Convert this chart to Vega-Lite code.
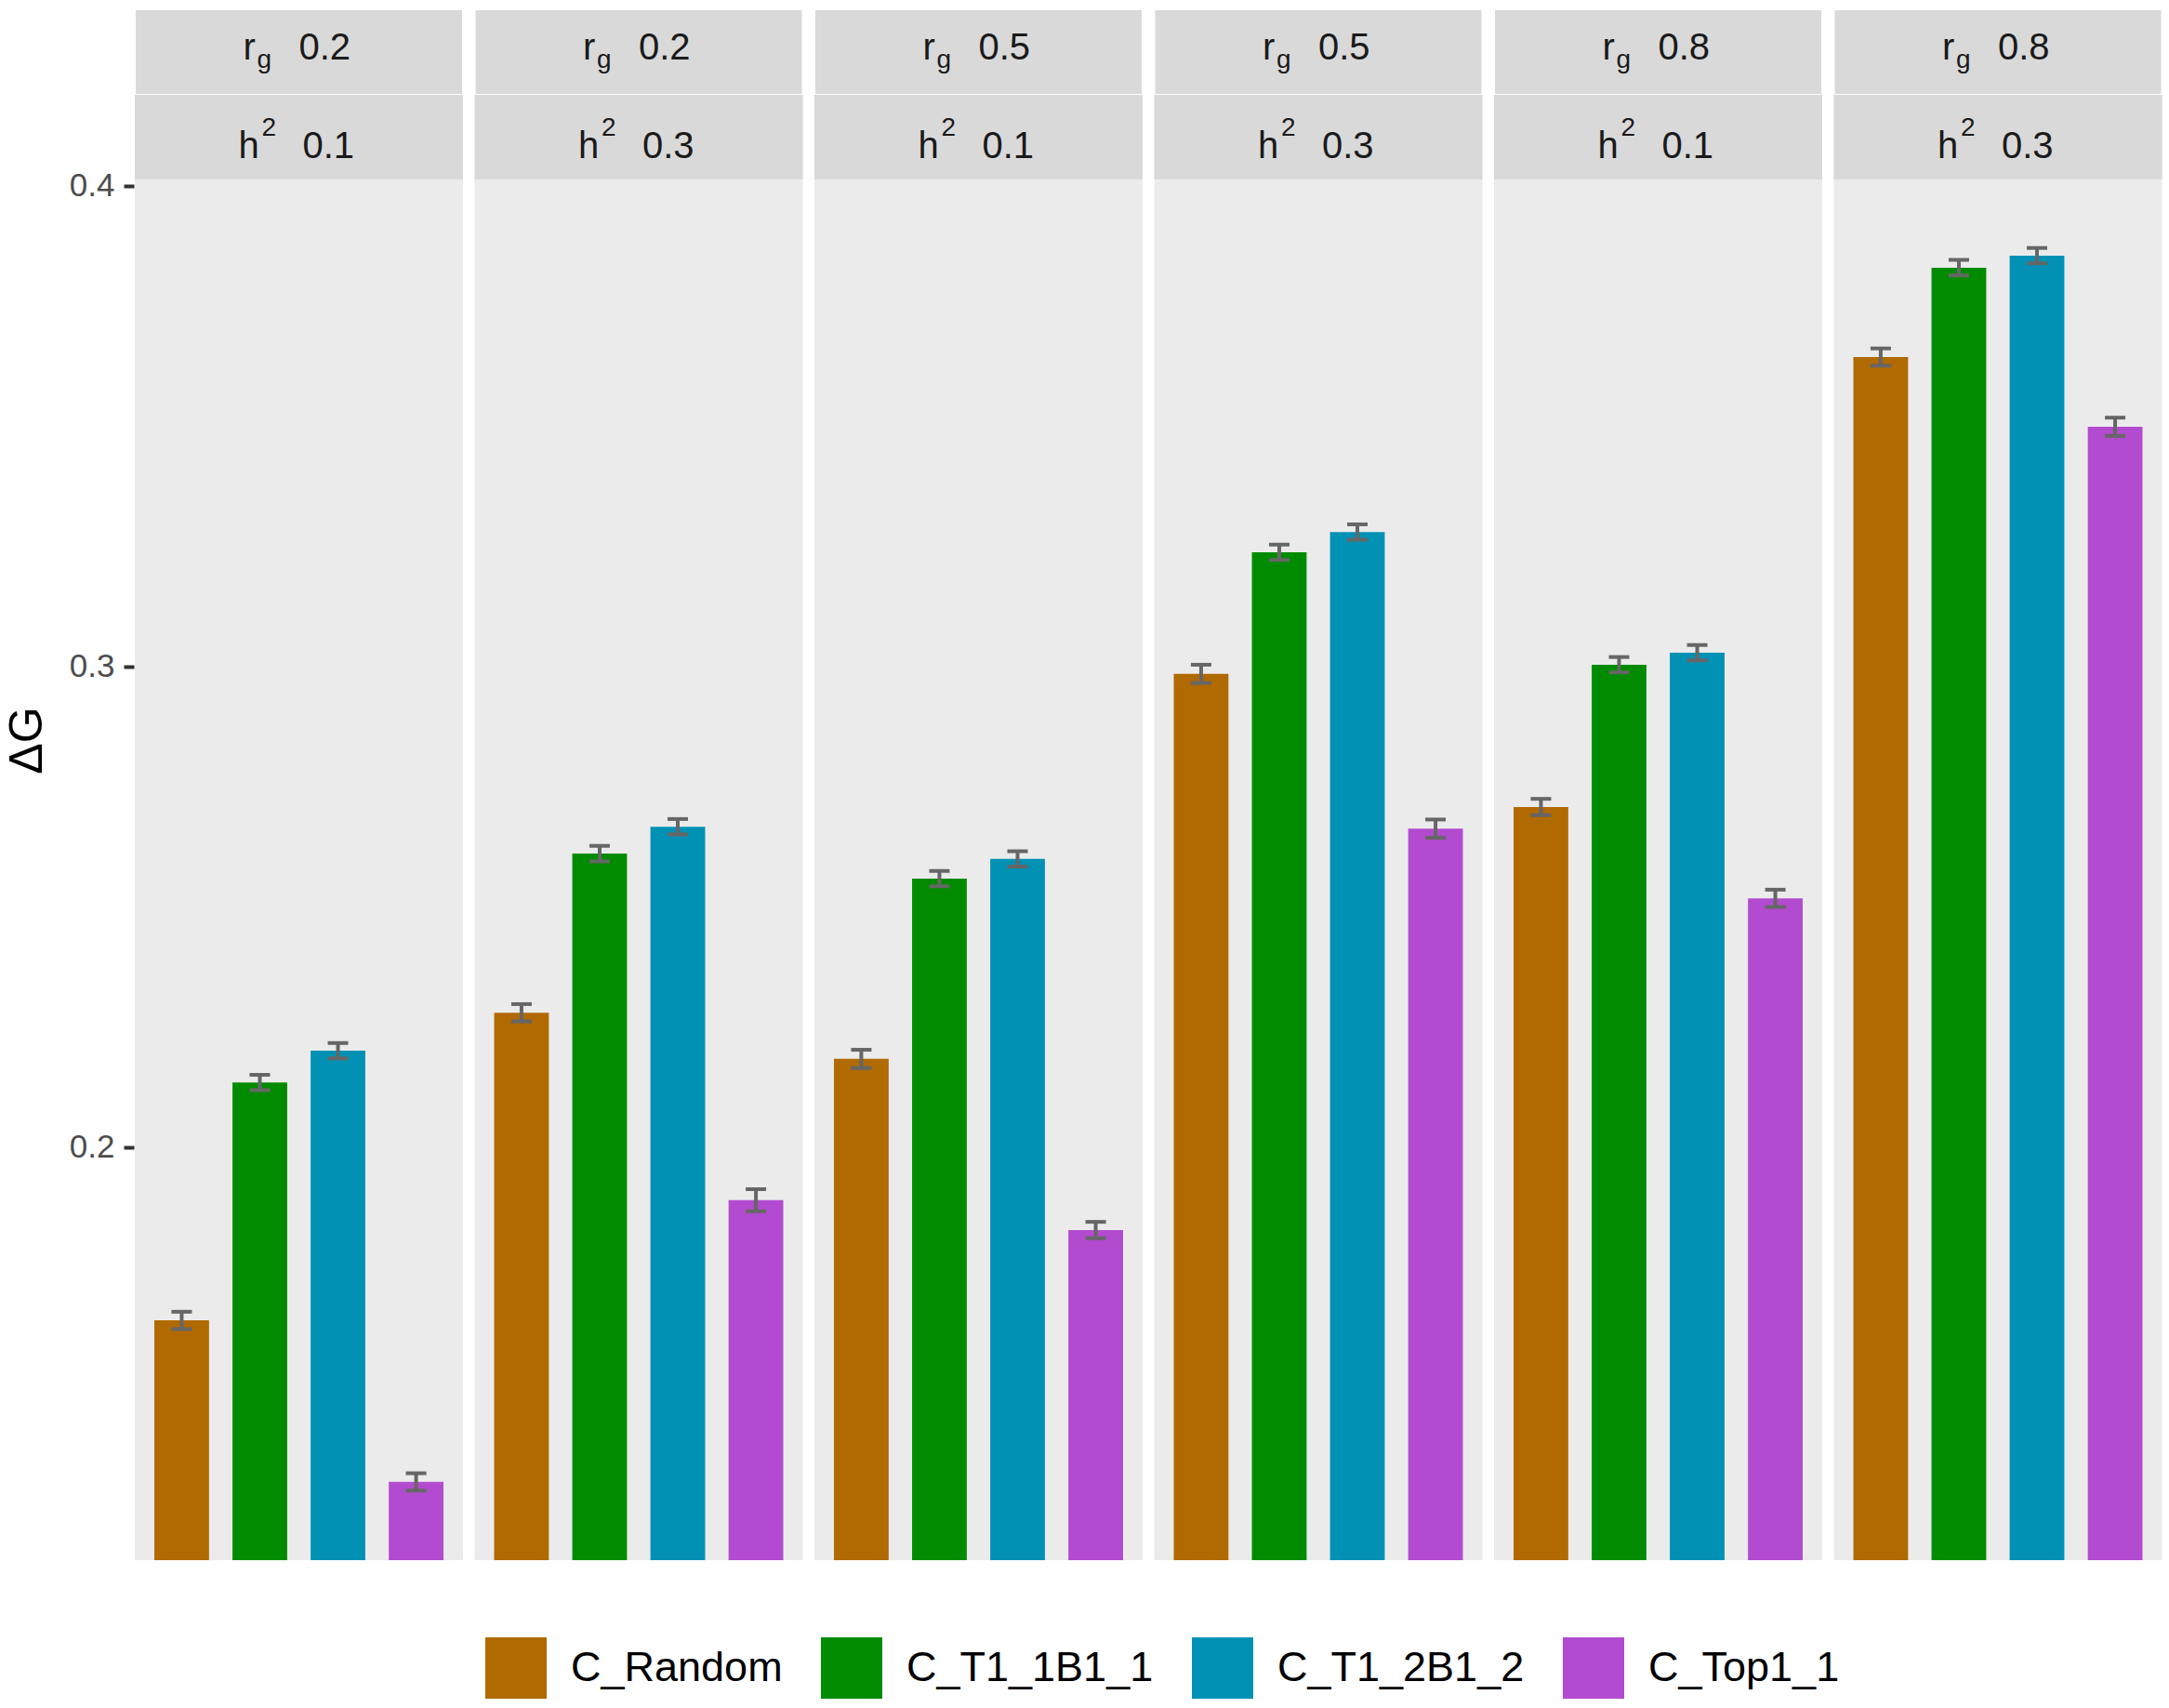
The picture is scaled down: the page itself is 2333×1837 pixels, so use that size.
{
  "$schema": "https://vega.github.io/schema/vega-lite/v6.json",
  "background": "white",
  "padding": {"left": 4, "top": 9, "right": 7, "bottom": 8},
  "data": {
    "values": [
      {"panel": 1, "rg": "0.2", "h2": "0.1", "method": "C_Random", "value": 0.1640, "lo": 0.1622, "hi": 0.1658},
      {"panel": 1, "rg": "0.2", "h2": "0.1", "method": "C_T1_1B1_1", "value": 0.2135, "lo": 0.2119, "hi": 0.2151},
      {"panel": 1, "rg": "0.2", "h2": "0.1", "method": "C_T1_2B1_2", "value": 0.2201, "lo": 0.2185, "hi": 0.2217},
      {"panel": 1, "rg": "0.2", "h2": "0.1", "method": "C_Top1_1", "value": 0.1304, "lo": 0.1286, "hi": 0.1322},
      {"panel": 2, "rg": "0.2", "h2": "0.3", "method": "C_Random", "value": 0.2280, "lo": 0.2262, "hi": 0.2298},
      {"panel": 2, "rg": "0.2", "h2": "0.3", "method": "C_T1_1B1_1", "value": 0.2611, "lo": 0.2595, "hi": 0.2627},
      {"panel": 2, "rg": "0.2", "h2": "0.3", "method": "C_T1_2B1_2", "value": 0.2667, "lo": 0.2651, "hi": 0.2683},
      {"panel": 2, "rg": "0.2", "h2": "0.3", "method": "C_Top1_1", "value": 0.1890, "lo": 0.1867, "hi": 0.1913},
      {"panel": 3, "rg": "0.5", "h2": "0.1", "method": "C_Random", "value": 0.2184, "lo": 0.2165, "hi": 0.2203},
      {"panel": 3, "rg": "0.5", "h2": "0.1", "method": "C_T1_1B1_1", "value": 0.2559, "lo": 0.2543, "hi": 0.2575},
      {"panel": 3, "rg": "0.5", "h2": "0.1", "method": "C_T1_2B1_2", "value": 0.2600, "lo": 0.2584, "hi": 0.2616},
      {"panel": 3, "rg": "0.5", "h2": "0.1", "method": "C_Top1_1", "value": 0.1828, "lo": 0.1811, "hi": 0.1845},
      {"panel": 4, "rg": "0.5", "h2": "0.3", "method": "C_Random", "value": 0.2985, "lo": 0.2966, "hi": 0.3004},
      {"panel": 4, "rg": "0.5", "h2": "0.3", "method": "C_T1_1B1_1", "value": 0.3238, "lo": 0.3222, "hi": 0.3254},
      {"panel": 4, "rg": "0.5", "h2": "0.3", "method": "C_T1_2B1_2", "value": 0.3280, "lo": 0.3264, "hi": 0.3296},
      {"panel": 4, "rg": "0.5", "h2": "0.3", "method": "C_Top1_1", "value": 0.2663, "lo": 0.2644, "hi": 0.2682},
      {"panel": 5, "rg": "0.8", "h2": "0.1", "method": "C_Random", "value": 0.2708, "lo": 0.2691, "hi": 0.2725},
      {"panel": 5, "rg": "0.8", "h2": "0.1", "method": "C_T1_1B1_1", "value": 0.3004, "lo": 0.2988, "hi": 0.3020},
      {"panel": 5, "rg": "0.8", "h2": "0.1", "method": "C_T1_2B1_2", "value": 0.3029, "lo": 0.3013, "hi": 0.3045},
      {"panel": 5, "rg": "0.8", "h2": "0.1", "method": "C_Top1_1", "value": 0.2518, "lo": 0.2500, "hi": 0.2536},
      {"panel": 6, "rg": "0.8", "h2": "0.3", "method": "C_Random", "value": 0.3644, "lo": 0.3626, "hi": 0.3662},
      {"panel": 6, "rg": "0.8", "h2": "0.3", "method": "C_T1_1B1_1", "value": 0.3830, "lo": 0.3814, "hi": 0.3846},
      {"panel": 6, "rg": "0.8", "h2": "0.3", "method": "C_T1_2B1_2", "value": 0.3855, "lo": 0.3839, "hi": 0.3871},
      {"panel": 6, "rg": "0.8", "h2": "0.3", "method": "C_Top1_1", "value": 0.3499, "lo": 0.3480, "hi": 0.3518}
    ]
  },
  "facet": {
    "column": {"field": "panel", "type": "ordinal", "header": {"labels": false, "title": null}}
  },
  "spacing": 10.5,
  "spec": {
    "width": 353,
    "height": 1668,
    "layer": [
      {
        "transform": [{"filter": "datum.method === 'C_Random'"}],
        "mark": {"type": "rect", "fill": "#D9D9D9", "stroke": "white", "strokeWidth": 2},
        "encoding": {
          "y": {"datum": 0.41896, "type": "quantitative"},
          "y2": {"datum": 0.43675}
        }
      },
      {
        "transform": [{"filter": "datum.method === 'C_Random'"}],
        "mark": {"type": "rect", "fill": "#D9D9D9"},
        "encoding": {
          "y": {"datum": 0.40135, "type": "quantitative"},
          "y2": {"datum": 0.41896}
        }
      },
      {
        "transform": [{"filter": "datum.method === 'C_Random'"}],
        "mark": {"type": "text", "text": "r", "align": "left", "baseline": "alphabetic", "dx": -60, "fontSize": 40, "color": "#1A1A1A"},
        "encoding": {"y": {"datum": 0.42631, "type": "quantitative"}}
      },
      {
        "transform": [{"filter": "datum.method === 'C_Random'"}],
        "mark": {"type": "text", "text": "g", "align": "left", "baseline": "alphabetic", "dx": -45, "dy": 9, "fontSize": 28, "color": "#1A1A1A"},
        "encoding": {"y": {"datum": 0.42631, "type": "quantitative"}}
      },
      {
        "transform": [{"filter": "datum.method === 'C_Random'"}],
        "mark": {"type": "text", "align": "left", "baseline": "alphabetic", "dx": 0, "fontSize": 40, "color": "#1A1A1A"},
        "encoding": {
          "y": {"datum": 0.42631, "type": "quantitative"},
          "text": {"field": "rg"}
        }
      },
      {
        "transform": [{"filter": "datum.method === 'C_Random'"}],
        "mark": {"type": "text", "text": "h", "align": "left", "baseline": "alphabetic", "dx": -65, "fontSize": 40, "color": "#1A1A1A"},
        "encoding": {"y": {"datum": 0.40580, "type": "quantitative"}}
      },
      {
        "transform": [{"filter": "datum.method === 'C_Random'"}],
        "mark": {"type": "text", "text": "2", "align": "left", "baseline": "alphabetic", "dx": -40, "dy": -24, "fontSize": 28, "color": "#1A1A1A"},
        "encoding": {"y": {"datum": 0.40580, "type": "quantitative"}}
      },
      {
        "transform": [{"filter": "datum.method === 'C_Random'"}],
        "mark": {"type": "text", "align": "left", "baseline": "alphabetic", "dx": 4, "fontSize": 40, "color": "#1A1A1A"},
        "encoding": {
          "y": {"datum": 0.40580, "type": "quantitative"},
          "text": {"field": "h2"}
        }
      },
      {
        "mark": {"type": "bar", "clip": true},
        "encoding": {
          "x": {
            "field": "method", "type": "nominal", "axis": null,
            "scale": {"paddingInner": 0.3, "paddingOuter": 0.25}
          },
          "y": {
            "field": "value", "type": "quantitative", "title": "ΔG",
            "scale": {"domain": [0.11412, 0.43675], "zero": false, "nice": false},
            "axis": {
              "values": [0.15, 0.2, 0.25, 0.3, 0.35, 0.4],
              "domain": false,
              "labelExpr": "abs(datum.value * 10 - round(datum.value * 10)) < 0.01 ? format(datum.value, '.1f') : ''",
              "labelFontSize": 35,
              "labelColor": "#4D4D4D",
              "labelPadding": 10,
              "tickSize": 11,
              "tickWidth": 4,
              "tickColor": "#333333",
              "tickOpacity": {"condition": {"test": "abs(datum.value * 10 - round(datum.value * 10)) < 0.01", "value": 1}, "value": 0},
              "gridColor": "white",
              "gridWidth": {"condition": {"test": "abs(datum.value * 10 - round(datum.value * 10)) < 0.01", "value": 4}, "value": 2},
              "titleFontSize": 50,
              "titleFontWeight": "normal",
              "titleColor": "black",
              "titleAngle": -90,
              "titleBaseline": "middle",
              "titleAlign": "center",
              "titleX": -115,
              "titleY": 786
            }
          },
          "color": {
            "field": "method", "type": "nominal",
            "scale": {
              "domain": ["C_Random", "C_T1_1B1_1", "C_T1_2B1_2", "C_Top1_1"],
              "range": ["#B06A00", "#008B00", "#0091B5", "#B24BCF"]
            },
            "legend": {
              "orient": "none",
              "legendX": 377,
              "legendY": 1751,
              "direction": "horizontal",
              "title": null,
              "symbolType": "square",
              "symbolSize": 4356,
              "symbolStrokeWidth": 0,
              "symbolOpacity": 1,
              "labelFontSize": 45,
              "labelColor": "black",
              "labelLimit": 0,
              "labelOffset": 26,
              "columnPadding": 41
            }
          }
        }
      },
      {
        "mark": {"type": "rule", "color": "#666666", "strokeWidth": 4},
        "encoding": {
          "x": {"field": "method", "type": "nominal"},
          "y": {"field": "lo", "type": "quantitative", "title": "ΔG"},
          "y2": {"field": "hi"}
        }
      },
      {
        "mark": {"type": "tick", "color": "#666666", "size": 22, "thickness": 4, "opacity": 1},
        "encoding": {
          "x": {"field": "method", "type": "nominal"},
          "y": {"field": "lo", "type": "quantitative", "title": "ΔG"}
        }
      },
      {
        "mark": {"type": "tick", "color": "#666666", "size": 22, "thickness": 4, "opacity": 1},
        "encoding": {
          "x": {"field": "method", "type": "nominal"},
          "y": {"field": "hi", "type": "quantitative", "title": "ΔG"}
        }
      }
    ]
  },
  "config": {
    "font": "Liberation Sans",
    "view": {"fill": "#EBEBEB", "stroke": null}
  }
}
